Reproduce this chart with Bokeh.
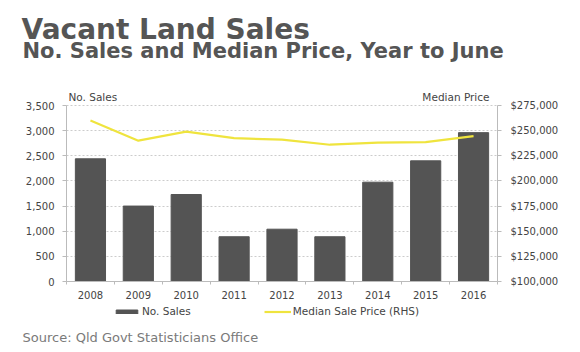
from bokeh.plotting import figure
from bokeh.models import (LinearAxis, Range1d, NumeralTickFormatter, FixedTicker,
                          SingleIntervalTicker, Label, Legend, LegendItem, ColumnDataSource, Grid)
from bokeh.embed import file_html
from bokeh.resources import INLINE

years = ["2008", "2009", "2010", "2011", "2012", "2013", "2014", "2015", "2016"]
sales = [2440, 1500, 1730, 890, 1040, 890, 1975, 2400, 2960]
median_price = [260000, 240000, 249000, 242500, 241000, 236000, 238000, 238500, 244500]

title_text = "Vacant Land Sales"
subtitle_text = "No. Sales and Median Price, Year to June"
source_text = "Source: Qld Govt Statisticians Office"
left_title = "No. Sales"
right_title = "Median Price"
bar_name = "No. Sales"
line_name = "Median Sale Price (RHS)"

W, H = 580, 352
# plot-area placement on the canvas (pixels)
PL, PR, PT, PB = 66, 497, 105, 281
n = len(years)
xpos = list(range(n))
src = ColumnDataSource(dict(x=xpos, sales=sales, price=median_price))

ppu_x = (PR - PL) / n
x0 = -0.5 - PL / ppu_x
x1 = x0 + W / ppu_x
s_lo, s_hi = 0, 3500
ppu_s = (PB - PT) / (s_hi - s_lo)
y0 = s_lo - (H - PB) / ppu_s
y1 = s_lo + PB / ppu_s
p_lo, p_hi = 100000, 275000
ppu_p = (PB - PT) / (p_hi - p_lo)
py0 = p_lo - (H - PB) / ppu_p
py1 = p_lo + PB / ppu_p

p = figure(width=W, height=H, x_range=Range1d(x0, x1), y_range=Range1d(y0, y1),
           output_backend="svg", toolbar_location=None,
           x_axis_location=None, y_axis_location=None,
           min_border=0, min_border_left=0, min_border_right=0,
           min_border_top=0, min_border_bottom=0)
p.outline_line_color = None
p.background_fill_color = "white"
p.border_fill_color = "white"
p.xgrid.visible = False
p.ygrid.visible = False
p.extra_y_ranges = {"price": Range1d(py0, py1)}

tick_font = "DejaVu Sans"
tick_color = "#444444"
axis_color = "#bbbbbb"

left_ticker = SingleIntervalTicker(interval=500)
grid = Grid(dimension=1, ticker=left_ticker, bounds=(s_lo, s_hi),
            cross_bounds=(-0.5, n - 0.5),
            grid_line_color="#cccccc", grid_line_dash="2 2", grid_line_width=1)
p.add_layout(grid)

bars = p.vbar(x="x", top="sales", width=0.63, source=src, color="#545454")
line = p.line(x="x", y="price", source=src, y_range_name="price",
              line_color="#efe43e", line_width=2.2)

def style(ax):
    ax.axis_line_color = axis_color
    ax.major_tick_line_color = axis_color
    ax.major_tick_out = 4
    ax.major_tick_in = 0
    ax.minor_tick_line_color = None
    ax.major_label_text_font = tick_font
    ax.major_label_text_font_size = "10px"
    ax.major_label_text_color = tick_color

la = LinearAxis(ticker=left_ticker, formatter=NumeralTickFormatter(format="0,0"),
                fixed_location=-0.5, bounds=(s_lo, s_hi))
style(la)
la.major_label_standoff = 8
p.add_layout(la, "left")

ra = LinearAxis(y_range_name="price", ticker=SingleIntervalTicker(interval=25000),
                formatter=NumeralTickFormatter(format="$0,0"),
                fixed_location=n - 0.5, bounds=(p_lo, p_hi))
style(ra)
ra.major_label_standoff = 9
p.add_layout(ra, "right")

xa = LinearAxis(ticker=FixedTicker(ticks=xpos, minor_ticks=[i - 0.5 for i in range(n + 1)]),
                fixed_location=s_lo, bounds=(-0.5, n - 0.5),
                major_label_overrides={i: y for i, y in enumerate(years)})
style(xa)
xa.major_tick_line_color = None
xa.minor_tick_line_color = axis_color
xa.minor_tick_out = 3
xa.minor_tick_in = 0
xa.major_label_standoff = 5
p.add_layout(xa, "below")

def lab(text, cx, cy, size, color, style="normal", font="DejaVu Sans", align="left"):
    l = Label(x=cx, y=H - cy, x_units="screen", y_units="screen", text=text,
              text_font=font, text_font_size=size, text_color=color,
              text_font_style=style, text_align=align, text_baseline="alphabetic")
    p.add_layout(l)
    return l

lab(title_text, 21, 29, "28px", "#555555", "bold")
lab(subtitle_text, 22, 50, "21px", "#555555", "bold")
lab(source_text, 22, 337, "13px", "#7a7a7a")
lab(left_title, 68, 96, "10.5px", tick_color)
lab(right_title, 489, 96, "10.5px", tick_color, align="right")

legend = Legend(items=[LegendItem(label=bar_name, renderers=[bars]),
                       LegendItem(label=line_name, renderers=[line])],
                orientation="horizontal", location=(113, 35),
                label_text_font=tick_font, label_text_font_size="10.5px",
                label_text_color=tick_color, border_line_color=None,
                background_fill_alpha=0, spacing=73, glyph_width=27, glyph_height=5,
                label_height=12, label_standoff=2, padding=0, margin=0)
p.add_layout(legend, "center")

open("out.html", "w").write(file_html(p, INLINE))
